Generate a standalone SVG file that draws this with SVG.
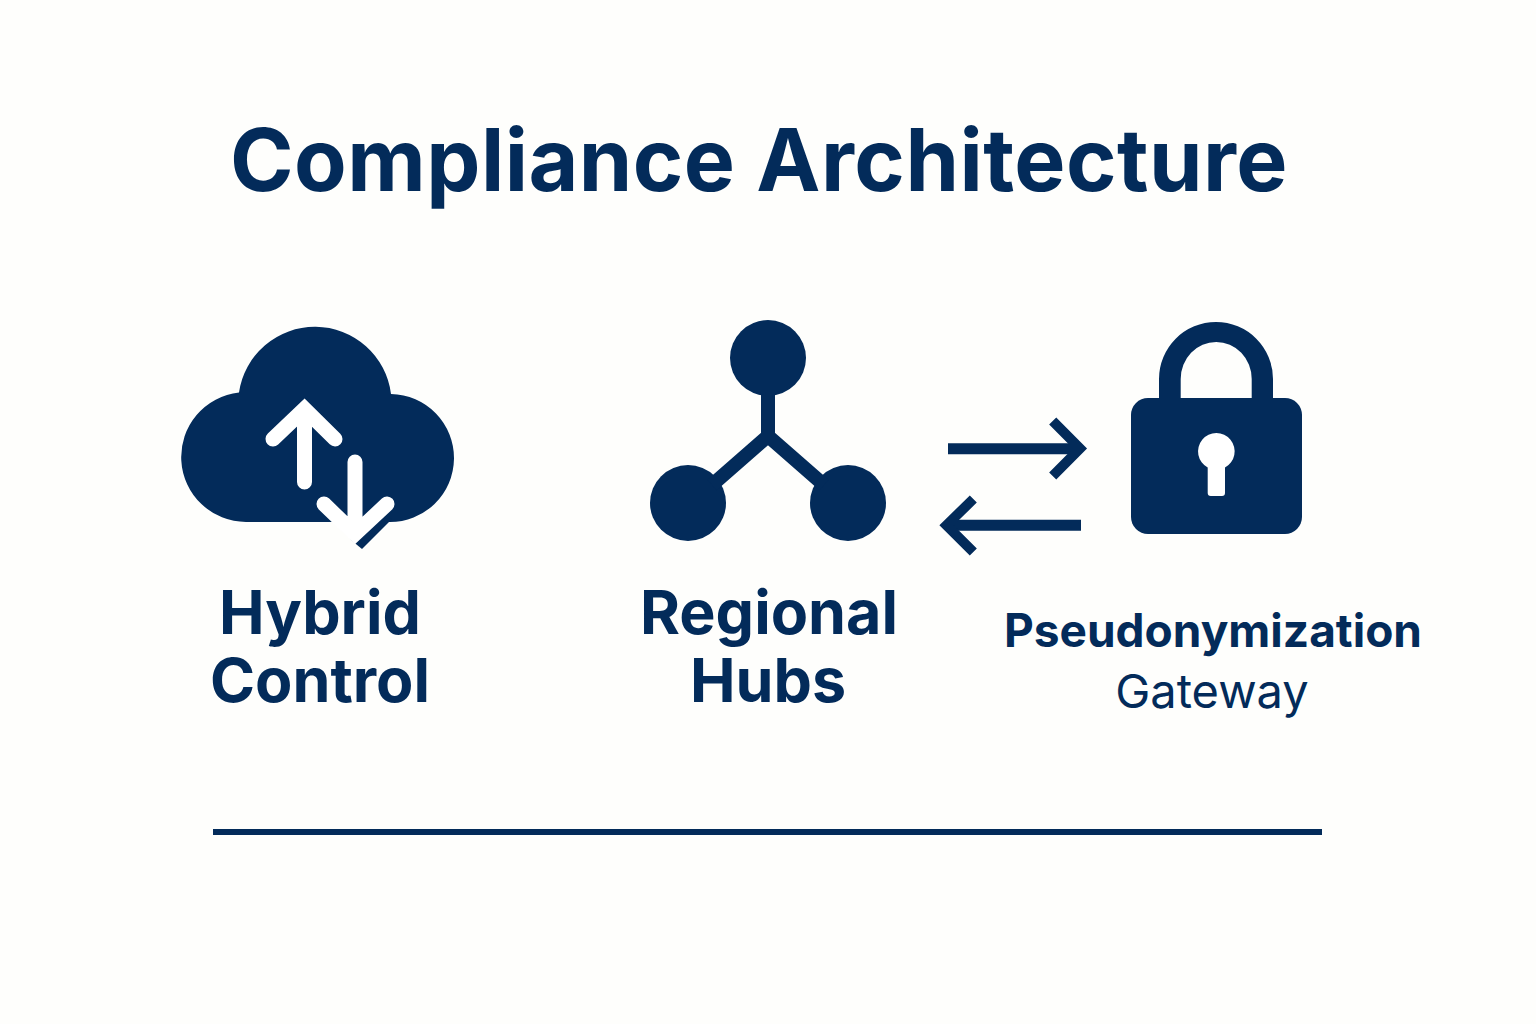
<svg xmlns="http://www.w3.org/2000/svg" width="1536" height="1024" viewBox="0 0 1536 1024">
<style>
.t{font-family:"Inter","Liberation Sans",sans-serif;fill:#032b5a;text-anchor:middle}
.b{font-weight:700;font-size:61px}
.ln{fill:none;stroke:#032b5a;stroke-width:14}
.hd{fill:none;stroke:#032b5a;stroke-width:10}
.sh{fill:none;stroke:#032b5a;stroke-width:11}
.wh{fill:none;stroke:#fff;stroke-width:15;stroke-linecap:round;stroke-linejoin:miter}
.f{fill:#032b5a}
</style>
<rect width="1536" height="1024" fill="#fefefc"/>
<text class="t" x="759" y="191" font-size="86" font-weight="700" letter-spacing="0.45">Compliance Architecture</text>
<g id="hybrid-control">
<path class="f" d="M246 522A65 65 0 0 1 239 392.400A76.700 76.700 0 0 1 391 394A64 64 0 0 1 389 522Z"/>
<path class="f" d="M392 519L362 549L351 540L340 515Z"/>
<path class="wh" d="M304.500 482V411M273 439L304.500 409L335 439"/>
<path class="wh" d="M355 462V532M324 504L355 534L387 504"/>
<text class="t b" x="320" y="634">Hybrid</text>
<text class="t b" x="320" y="702">Control</text>
</g>
<g id="regional-hubs">
<circle class="f" cx="768" cy="358" r="38"/>
<circle class="f" cx="688" cy="503" r="38"/>
<circle class="f" cx="848" cy="503" r="38"/>
<path class="ln" d="M768 390V436M768 436L712 485M768 436L824 485"/>
<text class="t b" x="769" y="634">Regional</text>
<text class="t b" x="768" y="702">Hubs</text>
</g>
<g id="connectors">
<path class="sh" d="M948 448.700H1078"/>
<path class="hd" d="M1052.700 421L1080 448.500L1052.700 476"/>
<path class="sh" d="M1081 525.300H948"/>
<path class="hd" d="M973.300 499L946.500 525.300L973.300 552"/>
</g>
<g id="pseudonymization-gateway">
<path class="f" fill-rule="evenodd" d="M1159 405V379A57 57 0 0 1 1273 379V405H1251.700V379A35.500 37 0 0 0 1180.700 379V405Z"/>
<rect class="f" x="1131" y="398" width="171" height="136" rx="17"/>
<path d="M1207.700 467.500A18.300 18.300 0 1 1 1225 467.500V493A3 3 0 0 1 1222 496H1210.700A3 3 0 0 1 1207.700 493Z" fill="#fff"/>
<text class="t" x="1213" y="647" font-size="46" font-weight="700">Pseudonymization</text>
<text class="t" x="1212" y="708" font-size="47" font-weight="400">Gateway</text>
</g>
<path id="rule" class="f" d="M213 829H1322V835H213Z"/>
</svg>
